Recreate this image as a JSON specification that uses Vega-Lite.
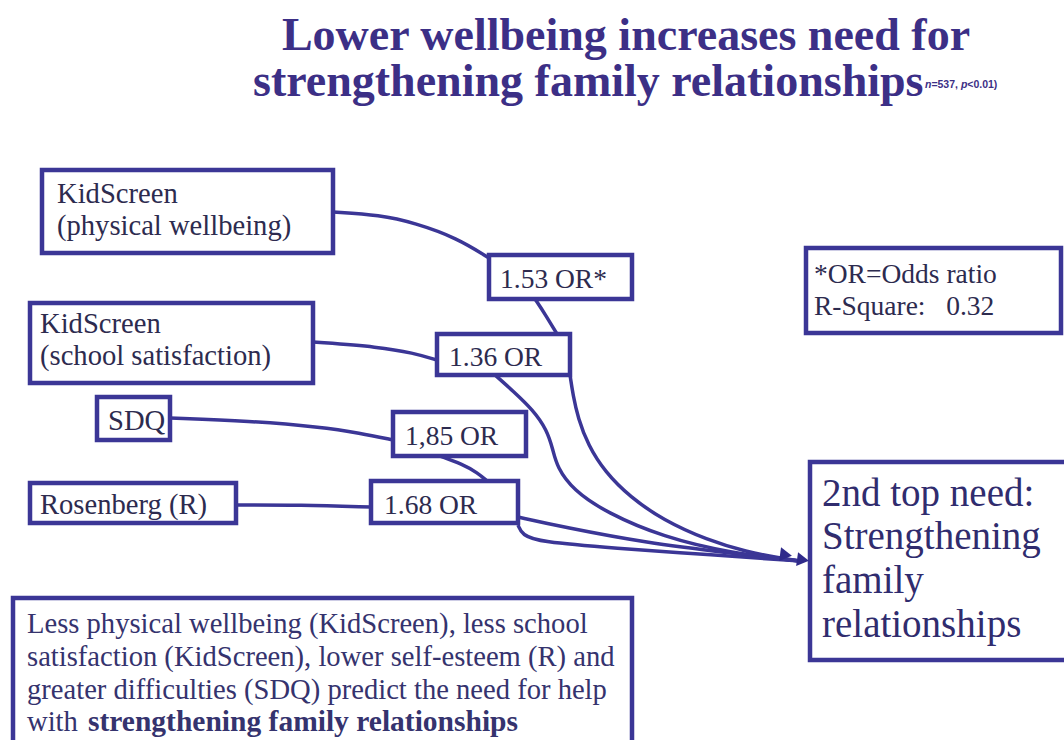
{
  "$schema": "https://vega.github.io/schema/vega-lite/v6.json",
  "width": 1064,
  "height": 740,
  "autosize": {"type": "fit", "contains": "padding"},
  "padding": 0,
  "background": "white",
  "config": {"view": {"stroke": null}},
  "datasets": {
    "boxes": [
      {"name": "physical", "x1": 42, "x2": 333, "y1": 170, "y2": 253},
      {"name": "school", "x1": 30, "x2": 313, "y1": 303, "y2": 383},
      {"name": "sdq", "x1": 97, "x2": 170, "y1": 397, "y2": 440},
      {"name": "rosenberg", "x1": 30, "x2": 236, "y1": 483, "y2": 523},
      {"name": "or153", "x1": 489, "x2": 632, "y1": 255, "y2": 299},
      {"name": "or136", "x1": 437, "x2": 570, "y1": 334, "y2": 375},
      {"name": "or185", "x1": 393, "x2": 526, "y1": 412, "y2": 456},
      {"name": "or168", "x1": 371, "x2": 518, "y1": 481, "y2": 523},
      {"name": "notes", "x1": 806, "x2": 1061, "y1": 248, "y2": 333},
      {"name": "target", "x1": 810, "x2": 1080, "y1": 462, "y2": 660},
      {"name": "summary", "x1": 13, "x2": 632, "y1": 598, "y2": 760}
    ],
    "links": [
      {"seg": "A", "i": 0, "x": 333, "y": 212}, {"seg": "A", "i": 1, "x": 380, "y": 215}, {"seg": "A", "i": 2, "x": 415, "y": 223}, {"seg": "A", "i": 3, "x": 457, "y": 238}, {"seg": "A", "i": 4, "x": 489, "y": 258},
      {"seg": "B", "i": 0, "x": 535, "y": 299}, {"seg": "B", "i": 1, "x": 545, "y": 314}, {"seg": "B", "i": 2, "x": 557, "y": 334},
      {"seg": "C", "i": 0, "x": 570, "y": 375}, {"seg": "C", "i": 1, "x": 573, "y": 395}, {"seg": "C", "i": 2, "x": 578, "y": 418}, {"seg": "C", "i": 3, "x": 588, "y": 445}, {"seg": "C", "i": 4, "x": 605, "y": 472}, {"seg": "C", "i": 5, "x": 630, "y": 497}, {"seg": "C", "i": 6, "x": 663, "y": 520}, {"seg": "C", "i": 7, "x": 707, "y": 540}, {"seg": "C", "i": 8, "x": 747, "y": 552}, {"seg": "C", "i": 9, "x": 780, "y": 558}, {"seg": "C", "i": 10, "x": 800, "y": 561},
      {"seg": "D", "i": 0, "x": 313, "y": 342}, {"seg": "D", "i": 1, "x": 380, "y": 347}, {"seg": "D", "i": 2, "x": 413, "y": 353}, {"seg": "D", "i": 3, "x": 437, "y": 360},
      {"seg": "E", "i": 0, "x": 495, "y": 375}, {"seg": "E", "i": 1, "x": 513, "y": 391}, {"seg": "E", "i": 2, "x": 533, "y": 410}, {"seg": "E", "i": 3, "x": 547, "y": 430}, {"seg": "E", "i": 4, "x": 553, "y": 450}, {"seg": "E", "i": 5, "x": 557, "y": 467}, {"seg": "E", "i": 6, "x": 573, "y": 490}, {"seg": "E", "i": 7, "x": 607, "y": 513}, {"seg": "E", "i": 8, "x": 663, "y": 537}, {"seg": "E", "i": 9, "x": 730, "y": 553}, {"seg": "E", "i": 10, "x": 800, "y": 561},
      {"seg": "F", "i": 0, "x": 170, "y": 418}, {"seg": "F", "i": 1, "x": 250, "y": 421}, {"seg": "F", "i": 2, "x": 320, "y": 427}, {"seg": "F", "i": 3, "x": 360, "y": 433}, {"seg": "F", "i": 4, "x": 393, "y": 440},
      {"seg": "G", "i": 0, "x": 440, "y": 456}, {"seg": "G", "i": 1, "x": 462, "y": 464}, {"seg": "G", "i": 2, "x": 478, "y": 473}, {"seg": "G", "i": 3, "x": 487, "y": 481},
      {"seg": "H", "i": 0, "x": 236, "y": 505}, {"seg": "H", "i": 1, "x": 300, "y": 505}, {"seg": "H", "i": 2, "x": 371, "y": 507},
      {"seg": "I", "i": 0, "x": 518, "y": 517}, {"seg": "I", "i": 1, "x": 563, "y": 527}, {"seg": "I", "i": 2, "x": 647, "y": 543}, {"seg": "I", "i": 3, "x": 730, "y": 553}, {"seg": "I", "i": 4, "x": 800, "y": 561},
      {"seg": "J", "i": 0, "x": 518, "y": 525}, {"seg": "J", "i": 1, "x": 522, "y": 535}, {"seg": "J", "i": 2, "x": 540, "y": 542}, {"seg": "J", "i": 3, "x": 613, "y": 548}, {"seg": "J", "i": 4, "x": 713, "y": 555}, {"seg": "J", "i": 5, "x": 800, "y": 561}
    ],
    "arrows": [
      {"x": 786, "y": 555},
      {"x": 803, "y": 560}
    ],
    "labels": [
      {"role": "title1", "x": 626, "y": 50, "text": "Lower wellbeing increases need for"},
      {"role": "title2", "x": 253, "y": 96, "text": "strengthening family relationships"},
      {"role": "subi", "x": 925, "y": 88, "text": "n"},
      {"role": "sub", "x": 931.4, "y": 88, "text": "=537,"},
      {"role": "subi", "x": 960.9, "y": 88, "text": "p"},
      {"role": "sub", "x": 967.3, "y": 88, "text": "<0.01)"},
      {"role": "box", "x": 57, "y": 203, "text": "KidScreen"},
      {"role": "box", "x": 57, "y": 235, "text": "(physical wellbeing)"},
      {"role": "box", "x": 40, "y": 333, "text": "KidScreen"},
      {"role": "box", "x": 40, "y": 365, "text": "(school satisfaction)"},
      {"role": "box", "x": 108, "y": 430, "text": "SDQ"},
      {"role": "box", "x": 40, "y": 514, "text": "Rosenberg (R)"},
      {"role": "or", "x": 500, "y": 288, "text": "1.53 OR*"},
      {"role": "or", "x": 449, "y": 366, "text": "1.36 OR"},
      {"role": "or", "x": 405, "y": 445, "text": "1,85 OR"},
      {"role": "or", "x": 384, "y": 514, "text": "1.68 OR"},
      {"role": "or", "x": 814, "y": 283, "text": "*OR=Odds ratio"},
      {"role": "or", "x": 814, "y": 315, "text": "R-Square:\u00a0\u00a0 0.32"},
      {"role": "target", "x": 822, "y": 506, "text": "2nd top need:"},
      {"role": "target", "x": 822, "y": 549, "text": "Strengthening"},
      {"role": "target", "x": 822, "y": 593, "text": "family"},
      {"role": "target", "x": 822, "y": 637, "text": "relationships"},
      {"role": "body", "x": 27, "y": 633, "text": "Less physical wellbeing (KidScreen), less school"},
      {"role": "body", "x": 27, "y": 666, "text": "satisfaction (KidScreen), lower self-esteem (R) and"},
      {"role": "body", "x": 27, "y": 699, "text": "greater difficulties (SDQ) predict the need for help"},
      {"role": "body", "x": 27, "y": 731, "text": "with"},
      {"role": "bodybold", "x": 88, "y": 731, "text": "strengthening family relationships"}
    ]
  },
  "layer": [
    {
      "data": {"name": "links"},
      "mark": {"type": "line", "interpolate": "basis", "stroke": "#3b3696", "strokeWidth": 3.5},
      "encoding": {
        "x": {"field": "x", "type": "quantitative", "scale": {"domain": [0, 1064], "nice": false, "zero": false}, "axis": null},
        "y": {"field": "y", "type": "quantitative", "scale": {"domain": [0, 740], "nice": false, "zero": false, "reverse": true}, "axis": null},
        "detail": {"field": "seg", "type": "nominal"},
        "order": {"field": "i", "type": "quantitative"}
      }
    },
    {
      "data": {"name": "boxes"},
      "mark": {"type": "rect", "fill": "white", "stroke": "#3b3696", "strokeWidth": 4.5, "clip": true},
      "encoding": {
        "x": {"field": "x1", "type": "quantitative", "scale": {"domain": [0, 1064], "nice": false, "zero": false}, "axis": null},
        "x2": {"field": "x2"},
        "y": {"field": "y1", "type": "quantitative", "scale": {"domain": [0, 740], "nice": false, "zero": false, "reverse": true}, "axis": null},
        "y2": {"field": "y2"}
      }
    },
    {
      "data": {"name": "arrows"},
      "mark": {"type": "point", "shape": "triangle-right", "filled": true, "color": "#2f2a8a", "size": 190, "angle": 8, "opacity": 1},
      "encoding": {
        "x": {"field": "x", "type": "quantitative", "axis": null},
        "y": {"field": "y", "type": "quantitative", "axis": null}
      }
    },
    {
      "data": {"name": "labels"},
      "transform": [{"filter": "datum.role === 'title1'"}],
      "mark": {"type": "text", "font": "Liberation Serif", "fontWeight": "bold", "fontSize": 46, "color": "#3c2f86", "align": "center", "baseline": "alphabetic"},
      "encoding": {
        "x": {"field": "x", "type": "quantitative", "axis": null},
        "y": {"field": "y", "type": "quantitative", "axis": null},
        "text": {"field": "text"}
      }
    },
    {
      "data": {"name": "labels"},
      "transform": [{"filter": "datum.role === 'title2'"}],
      "mark": {"type": "text", "font": "Liberation Serif", "fontWeight": "bold", "fontSize": 46, "color": "#3c2f86", "align": "left", "baseline": "alphabetic"},
      "encoding": {
        "x": {"field": "x", "type": "quantitative", "axis": null},
        "y": {"field": "y", "type": "quantitative", "axis": null},
        "text": {"field": "text"}
      }
    },
    {
      "data": {"name": "labels"},
      "transform": [{"filter": "datum.role === 'sub'"}],
      "mark": {"type": "text", "font": "Liberation Sans", "fontWeight": "bold", "fontSize": 10.5, "color": "#3c2f86", "align": "left", "baseline": "alphabetic"},
      "encoding": {
        "x": {"field": "x", "type": "quantitative", "axis": null},
        "y": {"field": "y", "type": "quantitative", "axis": null},
        "text": {"field": "text"}
      }
    },
    {
      "data": {"name": "labels"},
      "transform": [{"filter": "datum.role === 'subi'"}],
      "mark": {"type": "text", "font": "Liberation Sans", "fontWeight": "bold", "fontStyle": "italic", "fontSize": 10.5, "color": "#3c2f86", "align": "left", "baseline": "alphabetic"},
      "encoding": {
        "x": {"field": "x", "type": "quantitative", "axis": null},
        "y": {"field": "y", "type": "quantitative", "axis": null},
        "text": {"field": "text"}
      }
    },
    {
      "data": {"name": "labels"},
      "transform": [{"filter": "datum.role === 'box'"}],
      "mark": {"type": "text", "font": "Liberation Serif", "fontSize": 28.6, "color": "#2d2b4f", "align": "left", "baseline": "alphabetic"},
      "encoding": {
        "x": {"field": "x", "type": "quantitative", "axis": null},
        "y": {"field": "y", "type": "quantitative", "axis": null},
        "text": {"field": "text"}
      }
    },
    {
      "data": {"name": "labels"},
      "transform": [{"filter": "datum.role === 'or'"}],
      "mark": {"type": "text", "font": "Liberation Serif", "fontSize": 27.5, "color": "#2d2b4f", "align": "left", "baseline": "alphabetic"},
      "encoding": {
        "x": {"field": "x", "type": "quantitative", "axis": null},
        "y": {"field": "y", "type": "quantitative", "axis": null},
        "text": {"field": "text"}
      }
    },
    {
      "data": {"name": "labels"},
      "transform": [{"filter": "datum.role === 'target'"}],
      "mark": {"type": "text", "font": "Liberation Serif", "fontSize": 39, "color": "#302c6e", "align": "left", "baseline": "alphabetic"},
      "encoding": {
        "x": {"field": "x", "type": "quantitative", "axis": null},
        "y": {"field": "y", "type": "quantitative", "axis": null},
        "text": {"field": "text"}
      }
    },
    {
      "data": {"name": "labels"},
      "transform": [{"filter": "datum.role === 'body'"}],
      "mark": {"type": "text", "font": "Liberation Serif", "fontSize": 28.6, "color": "#35336e", "align": "left", "baseline": "alphabetic"},
      "encoding": {
        "x": {"field": "x", "type": "quantitative", "axis": null},
        "y": {"field": "y", "type": "quantitative", "axis": null},
        "text": {"field": "text"}
      }
    },
    {
      "data": {"name": "labels"},
      "transform": [{"filter": "datum.role === 'bodybold'"}],
      "mark": {"type": "text", "font": "Liberation Serif", "fontWeight": "bold", "fontSize": 29.5, "color": "#35336e", "align": "left", "baseline": "alphabetic"},
      "encoding": {
        "x": {"field": "x", "type": "quantitative", "axis": null},
        "y": {"field": "y", "type": "quantitative", "axis": null},
        "text": {"field": "text"}
      }
    }
  ]
}
